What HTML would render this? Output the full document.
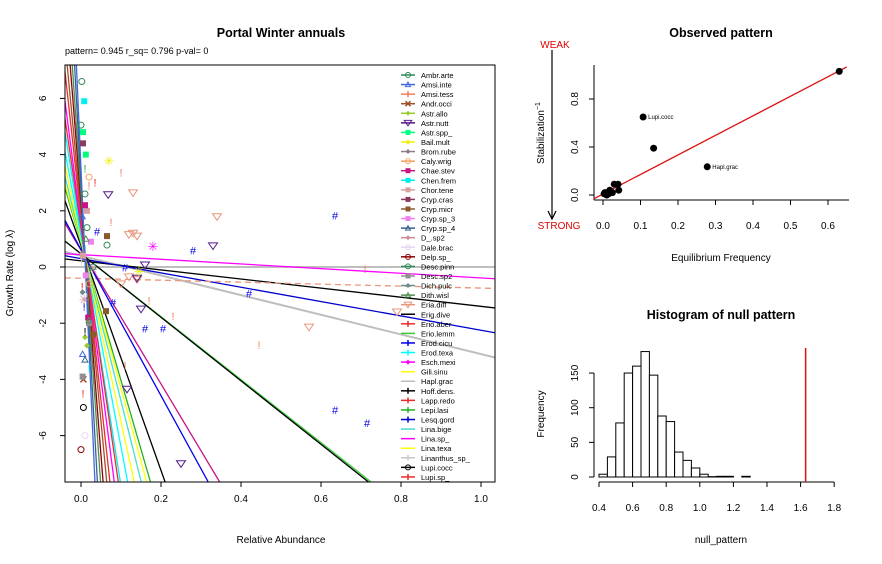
<!DOCTYPE html>
<html><head><meta charset="utf-8"><style>
html,body{margin:0;padding:0;background:#fff;width:882px;height:564px;overflow:hidden;}
svg{display:block;font-family:"Liberation Sans",sans-serif;}
</style></head><body>
<svg id="s" width="882" height="564" viewBox="0 0 882 564">
<rect width="882" height="564" fill="#fff"/>
<text x="281" y="37" text-anchor="middle" font-size="12.5" font-weight="bold">Portal Winter annuals</text>
<text x="65" y="54" font-size="9">pattern= 0.945 r_sq= 0.796 p-val= 0</text>
<text transform="translate(13,273) rotate(-90)" text-anchor="middle" font-size="10">Growth Rate (log  λ)</text>
<text x="281" y="543" text-anchor="middle" font-size="10">Relative Abundance</text>
<g id="main"></g>
<g id="obs"></g>
<g id="hist"></g>
</svg>
<script>
// ---------- main chart data ----------
const species=["Ambr.arte","Amsi.inte","Amsi.tess","Andr.occi","Astr.allo","Astr.nutt","Astr.spp_","Bail.mult","Brom.rube","Caly.wrig","Chae.stev","Chen.frem","Chor.tene","Cryp.cras","Cryp.micr","Cryp.sp_3","Cryp.sp_4","D_.sp2","Dale.brac","Delp.sp_","Desc.pinn","Desc.sp2","Dich.pulc","Dith.wisl","Eria.diff","Erig.dive","Erio.aber","Erio.lemm","Erod.cicu","Erod.texa","Esch.mexi","Gili.sinu","Hapl.grac","Hoff.dens.","Lapp.redo","Lepi.lasi","Lesq.gord","Lina.bige","Lina.sp_","Lina.texa","Linanthus_sp_","Lupi.cocc","Lupi.sp_"];
const colors=["#2e8b57","#4169e1","#f08060","#a0522d","#9acd32","#551a8b","#00ff7f","#f0f000","#8b7b8b","#f4a460","#c71585","#00eeee","#d8a0a0","#8b3a62","#8b5a2b","#ee82ee","#36648b","#cd8c95","#e6d8f0","#8b0000","#2e8b57","#909090","#698b8b","#548b54","#e9967a","#000000","#ee2c2c","#32cd32","#0000ee","#00ffff","#ff00ff","#ffff00","#bebebe","#000000","#ee2c2c","#22b022","#0000cd","#40e0d0","#ff00ff","#ffff00","#c8c8c8","#000000","#ee2c2c"];
const markers=["o","^","+","x","d","v","s","*","d","o","s","s","s","s","s","s","^","*","o","o","o","s","d","^","v","-","+","-","#","+","*","-","-","+","+","+","+","-","-","-","+","o","+"];
// regression lines: intercept (at x=0) and slope
const lineSpecies=[32,32,38,25,36,24,27,41,10,28,33,35,31,37,39,29,11,26,30,34,3,19,23,16,1];
const intercepts=[0,0.4,0.44,0.22,0.3,-0.4,0.47,0.47,0.6,0.62,0.76,0.86,0.88,0.93,1.0,1.1,1.2,1.4,1.5,1.75,2.0,2.3,2.6,3.0,3.5];
const slopes=[0,-3.5,-0.83,-1.62,-2.55,-0.35,-11.2,-11.3,-23.8,-26,-40,-49,-52,-57,-65,-75,-90,-97,-110,-130,-150,-180,-210,-260,-320];
// scatter points
const ptSpecies=[24,24,24,24,24,24,24,24,24,24,5,5,5,5,5,5,5,28,28,28,28,28,28,28,28,28,28,2,2,2,2,2,2,2,2,7,7,14,14,14,30,0,0,
 0,1,3,4,6,8,9,10,11,12,13,15,16,17,18,19,20,21,22,23,26,29,33,34,35,36,40,41,42,0,1,4,6,9,10,12,15,17,18,20,21,23];
const ptX=[0.13,0.34,0.13,0.14,0.12,0.57,0.79,0.14,0.12,0.1,0.068,0.33,0.16,0.15,0.115,0.25,0.14,0.04,0.28,0.635,0.42,0.16,0.205,0.635,0.715,0.11,0.08,0.1,0.075,0.17,0.23,0.445,0.71,0.11,0.02,0.07,0.145,0.065,0.0625,0.03,0.18,0.065,0.0,
 0.002,0.004,0.006,0.01,0.012,0.003,0.02,0.018,0.008,0.015,0.005,0.025,0.01,0.03,0.007,0.0,0.015,0.02,0.004,0.012,0.035,0.02,0.01,0.005,0.01,0.008,0.001,0.006,0.003,0.01,0.003,0.015,0.005,0.02,0.01,0.005,0.012,0.008,0.01,0.03,0.004,0.02];
const ptY=[2.64,1.79,1.2,1.1,1.15,-2.14,-1.6,-0.45,-0.35,-0.6,2.57,0.75,0.07,-1.5,-4.35,-7.0,-0.4,1.25,0.57,1.82,-0.96,-2.2,-2.2,-5.1,-5.57,-0.04,-1.28,3.36,1.6,-1.2,-1.75,-2.78,-0.07,-3.5,2.9,3.75,-0.18,1.1,-1.57,-2.4,0.71,0.78,5.05,
 6.6,-3.1,-4.0,-2.5,4.0,0.5,-0.6,-1.8,5.9,2.0,4.4,0.9,-3.3,-0.1,-1.0,-6.5,1.4,-2.0,-0.9,1.0,3.0,-3.6,-2.3,-4.5,3.5,-1.4,0.2,-5.0,-0.7,2.6,1.8,-2.8,4.8,3.2,2.2,0.4,-0.3,-1.2,-6.0,0.0,-3.9,-1.9];
// ---------- observed pattern data ----------
const obsX=[0.63,0.107,0.135,0.278,0.003,0.005,0.01,0.012,0.02,0.025,0.03,0.04,0.042,0.018,0.008,0.015];
const obsY=[1.03,0.65,0.39,0.235,0.01,0.02,0.0,0.015,0.03,0.02,0.09,0.09,0.04,0.04,0.005,0.01];
const obsLabels=["","Lupi.cocc","","Hapl.grac","","","","","","","","","","","",""];
const fitIntercept=0.008, fitSlope=1.63;
// ---------- histogram data ----------
const binStarts=[0.40,0.45,0.50,0.55,0.60,0.65,0.70,0.75,0.80,0.85,0.90,0.95,1.00,1.05,1.10,1.15,1.20,1.25];
const counts=[4,29,78,150,160,181,147,88,80,36,24,13,4,0.5,1,1,0,1];
const observedValue=1.63;
const xTicksMain=[0,0.2,0.4,0.6,0.8,1.0], yTicksMain=[6,4,2,0,-2,-4,-6];
const xTicksObs=[0,0.1,0.2,0.3,0.4,0.5,0.6], yTicksObs=[0,0.4,0.8];
const xTicksHist=[0.4,0.6,0.8,1.0,1.2,1.4,1.6,1.8], yTicksHist=[0,50,100,150];

const NS="http://www.w3.org/2000/svg";
function mk(parent,tag,attrs,text){const e=document.createElementNS(NS,tag);for(const k in attrs)e.setAttribute(k,attrs[k]);if(text!==undefined)e.textContent=text;parent.appendChild(e);return e;}
function fmt(v,d){return v.toFixed(d);}

// ===== main =====
const M=document.getElementById('main');
const L=65,R=495,T=65,B=482;
const X=v=>81+v*400, Y=v=>267-v*28.1;
const xMinD=(L-81)/400, xMaxD=(R-81)/400, yMaxD=(267-T)/28.1, yMinD=(267-B)/28.1;
const cp=mk(M,'clipPath',{id:'mc'});
mk(cp,'rect',{x:L,y:T,width:R-L,height:B-T});
const lg=mk(M,'g',{'clip-path':'url(#mc)'});
lineSpecies.forEach((s,i)=>{
  const a=intercepts[i],b=slopes[i];
  let xa=xMinD,xb=xMaxD;
  if(b!==0){const p=(yMaxD-a)/b,q=(yMinD-a)/b;xa=Math.max(xa,Math.min(p,q));xb=Math.min(xb,Math.max(p,q));}
  if(xb<=xa)return;
  const l=mk(lg,'line',{x1:X(xa),y1:Y(a+b*xa),x2:X(xb),y2:Y(a+b*xb),stroke:colors[s],'stroke-width':i<2?2:1.3,'stroke-dasharray':s===24?'6,4':'none'});
  
  
});
function marker(g,type,cx,cy,c,sz){
  let e;sz=sz||3;
  if(type==='o')e=mk(g,'circle',{cx,cy,r:sz,fill:'none',stroke:c,'stroke-width':1});
  else if(type==='^')e=mk(g,'path',{d:`M${cx},${cy-sz}L${cx+sz},${cy+sz*0.8}L${cx-sz},${cy+sz*0.8}Z`,fill:'none',stroke:c});
  else if(type==='v')e=mk(g,'path',{d:`M${cx-sz*1.5},${cy-sz}L${cx+sz*1.5},${cy-sz}L${cx},${cy+sz*1.2}Z`,fill:'none',stroke:c});
  else if(type==='s')e=mk(g,'rect',{x:cx-sz,y:cy-sz,width:sz*2,height:sz*2,fill:c});
  else if(type==='d')e=mk(g,'path',{d:`M${cx},${cy-sz}L${cx+sz},${cy}L${cx},${cy+sz}L${cx-sz},${cy}Z`,fill:c});
  else if(type==='x')e=mk(g,'path',{d:`M${cx-sz},${cy-sz}L${cx+sz},${cy+sz}M${cx+sz},${cy-sz}L${cx-sz},${cy+sz}`,stroke:c,'stroke-width':1.5});
  else if(type==='#')e=mk(g,'text',{x:cx,y:cy+3.5,'text-anchor':'middle','font-size':11,fill:c},'#');
  else if(type==='*')e=mk(g,'text',{x:cx,y:cy+4,'text-anchor':'middle','font-size':13,fill:c},'✳');
  else if(type==='+')e=mk(g,'text',{x:cx,y:cy+4,'text-anchor':'middle','font-size':11,fill:c},'!');
  else e=mk(g,'circle',{cx,cy,r:2,fill:c});
  return e;
}
ptSpecies.forEach((s,i)=>{
  const e=marker(lg,markers[s],X(ptX[i]),Y(ptY[i]),colors[s]);
  
  
});
mk(M,'rect',{x:L,y:T,width:R-L,height:B-T,fill:'none',stroke:'#000','stroke-width':1});
xTicksMain.forEach(v=>{mk(M,'line',{x1:X(v),x2:X(v),y1:B,y2:B+5,stroke:'#000'});
  const t=mk(M,'text',{x:X(v),y:B+20,'text-anchor':'middle','font-size':10},fmt(v,1));
  
  });
yTicksMain.forEach(v=>{mk(M,'line',{x1:L-5,x2:L,y1:Y(v),y2:Y(v),stroke:'#000'});
  const t=mk(M,'text',{transform:`translate(${L-19},${Y(v)}) rotate(-90)`,'text-anchor':'middle','font-size':10},String(v));
  
  });
// legend
const LG=mk(M,'g',{});


species.forEach((s,i)=>{
  const y=75+i*9.57;
  const g=mk(LG,'g',{});
  
  
  mk(g,'line',{x1:401,x2:415,y1:y,y2:y,stroke:colors[i],'stroke-width':1.5});
  if(markers[i]!=='-'){const mt=markers[i]==='+'?'x':markers[i];
    if(markers[i]==='+'||markers[i]==='#')mk(g,'line',{x1:408,x2:408,y1:y-3,y2:y+3,stroke:colors[i],'stroke-width':1.5});
    else marker(g,mt==='*'?'d':mt,408,y,colors[i],2.5);}
  mk(g,'text',{x:421,y:y+3,'font-size':7.5},s);
});

// ===== observed =====
const O=document.getElementById('obs');
const OX=v=>603+v*375, OY=v=>195-v*120;
mk(O,'text',{x:721,y:37,'text-anchor':'middle','font-size':12.5,'font-weight':'bold'},'Observed pattern');
mk(O,'text',{x:555,y:48,'text-anchor':'middle','font-size':10,fill:'#e00000'},'WEAK');
mk(O,'text',{x:559,y:229,'text-anchor':'middle','font-size':10,fill:'#e00000'},'STRONG');
mk(O,'line',{x1:552,x2:552,y1:50,y2:218,stroke:'#000','stroke-width':1.2});
mk(O,'path',{d:'M548,211L552,219L556,211',fill:'none',stroke:'#000','stroke-width':1.2});
const yt=mk(O,'text',{transform:'translate(544,133) rotate(-90)','text-anchor':'middle','font-size':10},'Stabilization');
mk(yt,'tspan',{dy:-4,'font-size':7},'−1');
mk(O,'text',{x:721,y:261,'text-anchor':'middle','font-size':10},'Equilibrium Frequency');
mk(O,'line',{x1:594,x2:594,y1:65,y2:200,stroke:'#000'});
mk(O,'line',{x1:594,x2:849,y1:200,y2:200,stroke:'#000'});
xTicksObs.forEach(v=>{mk(O,'line',{x1:OX(v),x2:OX(v),y1:200,y2:205,stroke:'#000'});
  mk(O,'text',{x:OX(v),y:229,'text-anchor':'middle','font-size':10},fmt(v,1));});
yTicksObs.forEach(v=>{mk(O,'line',{x1:589,x2:594,y1:OY(v),y2:OY(v),stroke:'#000'});
  mk(O,'text',{transform:`translate(${578},${OY(v)}) rotate(-90)`,'text-anchor':'middle','font-size':10},fmt(v,1));});
const fx0=-0.025,fx1=0.65;
const fl=mk(O,'line',{x1:OX(fx0),y1:OY(fitIntercept+fitSlope*fx0),x2:OX(fx1),y2:OY(fitIntercept+fitSlope*fx1),stroke:'#dd1111','stroke-width':1.3});


obsX.forEach((v,i)=>{const c=mk(O,'circle',{cx:OX(v),cy:OY(obsY[i]),r:3.5,fill:'#000'});
  
  
  if(obsLabels[i])mk(O,'text',{x:OX(v)+5,y:OY(obsY[i])+2,'font-size':6},obsLabels[i]);});

// ===== histogram =====
const H=document.getElementById('hist');
const HX=v=>599+(v-0.4)*168, HY=v=>477-v*0.693;
mk(H,'text',{x:721,y:319,'text-anchor':'middle','font-size':12.5,'font-weight':'bold'},'Histogram of null pattern');
mk(H,'text',{transform:'translate(544,414) rotate(-90)','text-anchor':'middle','font-size':10},'Frequency');
mk(H,'text',{x:721,y:543,'text-anchor':'middle','font-size':10},'null_pattern');
binStarts.forEach((b,i)=>{const r=mk(H,'rect',{x:HX(b),y:HY(counts[i]),width:HX(b+0.05)-HX(b),height:counts[i]*0.693,fill:'#fff',stroke:'#000','stroke-width':1});
  
  });
mk(H,'line',{x1:594,x2:594,y1:HY(0),y2:HY(150),stroke:'#000'});
yTicksHist.forEach(v=>{mk(H,'line',{x1:589,x2:594,y1:HY(v),y2:HY(v),stroke:'#000'});
  mk(H,'text',{transform:`translate(${578},${HY(v)}) rotate(-90)`,'text-anchor':'middle','font-size':10},String(v));});
mk(H,'line',{x1:HX(0.4),x2:HX(1.8),y1:482,y2:482,stroke:'#000'});
xTicksHist.forEach(v=>{mk(H,'line',{x1:HX(v),x2:HX(v),y1:482,y2:487,stroke:'#000'});
  mk(H,'text',{x:HX(v),y:511,'text-anchor':'middle','font-size':10},fmt(v,1));});
const ov=mk(H,'line',{x1:HX(observedValue),x2:HX(observedValue),y1:348,y2:482,stroke:'#dd1111','stroke-width':1.5});


</script>
</body></html>
